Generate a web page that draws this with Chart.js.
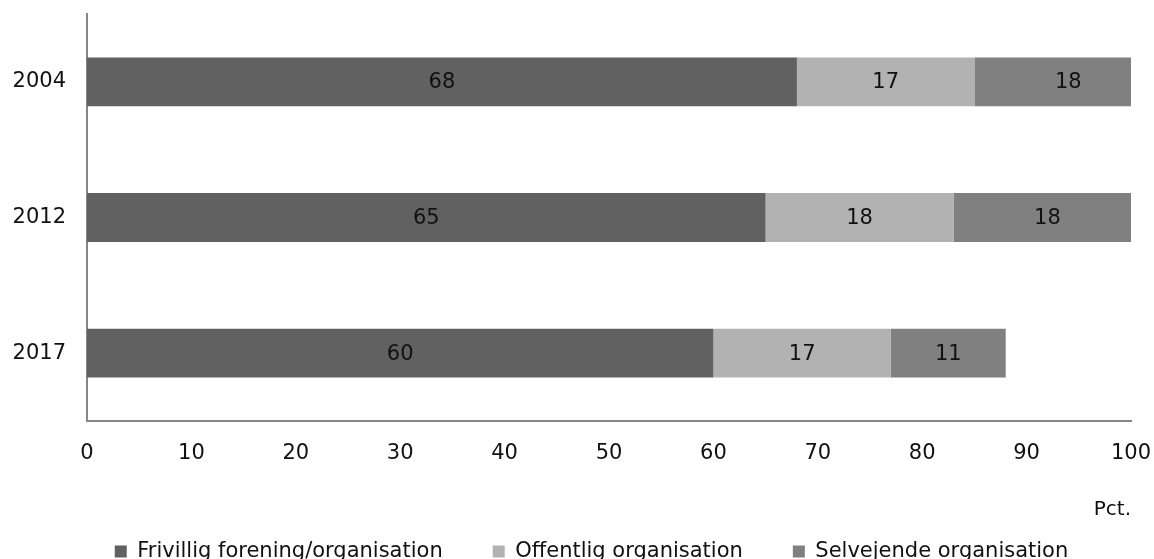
<!DOCTYPE html>
<html>
<head>
<meta charset="utf-8">
<script src="https://cdn.jsdelivr.net/npm/chart.js@4.4.1/dist/chart.umd.min.js"></script>
<style>
  html, body { margin: 0; padding: 0; background: #fff; overflow: hidden; }
  #wrap { width: 1154px; height: 559px; overflow: hidden; }
</style>
</head>
<body>
<div id="wrap"><canvas id="chart" width="1154" height="572"></canvas></div>
<script>
const years = ['2004', '2012', '2017'];
const frivillig = [68, 65, 60];
const offentlig = [17, 18, 17];
const selvejende = [18, 18, 11];
const xTicks = [0, 10, 20, 30, 40, 50, 60, 70, 80, 90, 100];

const font = 'DejaVu Sans';

// labels in the middle of each bar segment
const barLabels = {
  id: 'barLabels',
  afterLayout(chart) {
    // legend sits a bit right of the canvas centre in the original
    chart.legend.left += 26;
    chart.legend.right += 26;
  },
  afterDatasetsDraw(chart) {
    const ctx = chart.ctx;
    ctx.save();
    ctx.font = '21px "' + font + '"';
    ctx.fillStyle = '#111';
    ctx.textAlign = 'center';
    ctx.textBaseline = 'middle';
    chart.data.datasets.forEach(function(ds, i) {
      const meta = chart.getDatasetMeta(i);
      meta.data.forEach(function(bar, j) {
        const cx = (bar.x + bar.base) / 2;
        ctx.fillText(ds.data[j], cx, bar.y + 1);
      });
    });
    ctx.restore();
  }
};

new Chart(document.getElementById('chart'), {
  type: 'bar',
  data: {
    labels: years,
    datasets: [
      { label: 'Frivillig forening/organisation', data: frivillig, backgroundColor: '#616161' },
      { label: 'Offentlig organisation', data: offentlig, backgroundColor: '#b2b2b2' },
      { label: 'Selvejende organisation', data: selvejende, backgroundColor: '#808080' }
    ]
  },
  options: {
    indexAxis: 'y',
    responsive: false,
    animation: false,
    devicePixelRatio: 1,
    layout: { padding: { top: 14, right: 23, left: 0, bottom: 0 } },
    datasets: { bar: { categoryPercentage: 1, barPercentage: 0.36 } },
    scales: {
      x: {
        stacked: true,
        min: 0,
        max: 100,
        afterBuildTicks: function(s) { s.ticks = xTicks.map(function(v) { return { value: v }; }); },
        afterFit: function(s) { s.height = 70; s.paddingLeft = 0; s.paddingRight = 0; },
        grid: { display: false },
        border: { color: '#868686', width: 2 },
        ticks: { color: '#111', font: { family: font, size: 21 }, padding: 12, maxRotation: 0 },
        title: {
          display: true, text: 'Pct.', align: 'end', color: '#111',
          font: { family: font, size: 20 }, padding: { top: 0, bottom: -31 }
        }
      },
      y: {
        stacked: true,
        afterFit: function(s) { s.width = 87; s.paddingTop = 0; s.paddingBottom = 0; },
        grid: { display: false },
        border: { color: '#868686', width: 2 },
        ticks: { color: '#111', font: { family: font, size: 21 }, padding: 13 }
      }
    },
    plugins: {
      legend: {
        position: 'bottom',
        labels: {
          color: '#111', font: { family: font, size: 21 },
          boxWidth: 12, boxHeight: 12, padding: 50
        }
      },
      tooltip: { enabled: false }
    }
  },
  plugins: [barLabels]
});
</script>
</body>
</html>
